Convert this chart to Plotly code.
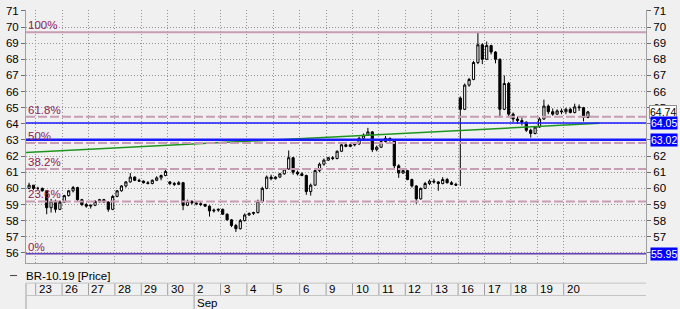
import plotly.graph_objects as go

# ---------------- data ----------------
day_labels = ["23", "26", "27", "28", "29", "30", "2", "3", "4", "5", "6",
              "9", "10", "11", "12", "13", "16", "17", "18", "19", "20"]
month_label = "Sep"
month_start_index = 6          # Sep 2
bars_per_day = 6
first_partial_slots = [4, 5]   # visible bars of Aug 22

opens = [
    60.0, 60.2,                                   # 22
    60.0, 60.0, 59.85, 58.8, 59.2, 58.7,          # 23
    59.15, 59.55, 59.85, 60.05, 59.3, 59.0,       # 26
    58.9, 58.95, 59.2, 59.3, 59.15, 58.7,         # 27
    59.5, 59.85, 60.15, 60.4, 60.7, 60.5,         # 28
    60.45, 60.35, 60.3, 60.5, 60.65, 60.8,        # 29
    60.4, 60.3, 60.25, 60.35, 58.95, 59.2,        # 30
    59.1, 59.05, 59.0, 58.9, 58.6, 58.65,         # Sep 2
    58.7, 58.4, 58.05, 57.7, 57.5, 58.0,          # 3
    58.35, 58.45, 58.5, 59.2, 60.0, 60.7,         # 4
    60.6, 60.7, 60.9, 61.2, 61.9, 61.0,           # 5
    60.9, 60.8, 59.8, 60.2, 61.1, 61.5,           # 6
    61.75, 61.9, 61.85, 62.3, 62.7, 62.6,         # 9
    62.7, 62.75, 63.1, 63.3, 63.5, 62.4,          # 10
    62.55, 62.9, 63.1, 63.0, 61.4, 60.95,         # 11
    61.1, 60.55, 60.15, 59.35, 60.0, 60.3,        # 12
    60.45, 60.4, 60.3, 60.55, 60.35, 60.25,       # 13
    65.6, 64.9, 66.4, 66.75, 67.8, 68.9,          # 16
    68.0, 68.85, 68.45, 68.0, 64.9, 66.5,         # 17
    64.6, 64.3, 64.2, 64.1, 63.6, 63.4,           # 18
    63.8, 64.3, 65.1, 64.75, 64.6, 64.8,          # 19
    64.75, 64.9, 64.7, 65.05, 65.0, 64.4,         # 20
]
highs = [
    60.35, 60.2,
    60.1, 60.05, 59.9, 59.35, 59.3, 59.25,
    59.6, 59.9, 60.15, 60.1, 59.35, 59.1,
    59.0, 59.25, 59.35, 59.35, 59.2, 59.6,
    59.9, 60.2, 60.45, 60.95, 60.75, 60.6,
    60.5, 60.45, 60.55, 60.75, 60.85, 61.15,
    60.45, 60.4, 60.45, 60.4, 59.3, 59.25,
    59.2, 59.15, 59.05, 58.95, 58.75, 58.75,
    58.75, 58.45, 58.1, 57.8, 58.1, 58.45,
    58.5, 58.55, 59.3, 60.1, 60.8, 60.85,
    60.75, 60.95, 61.25, 62.35, 61.95, 61.1,
    61.0, 60.85, 60.3, 61.2, 61.6, 61.85,
    61.95, 62.0, 62.35, 62.8, 62.85, 62.8,
    62.8, 63.2, 63.4, 63.75, 63.55, 62.65,
    63.0, 63.25, 63.15, 63.05, 61.5, 61.15,
    61.15, 60.6, 60.2, 60.05, 60.4, 60.55,
    60.6, 60.45, 60.7, 60.65, 60.45, 60.35,
    65.7, 66.5, 66.85, 67.9, 69.65, 69.0,
    69.1, 68.9, 68.5, 68.05, 67.0, 66.6,
    64.7, 64.45, 64.4, 64.15, 63.7, 63.85,
    64.4, 65.5, 65.2, 64.95, 64.9, 64.95,
    65.0, 65.0, 65.25, 65.2, 65.05, 64.8,
]
lows = [
    59.95, 59.9,
    59.9, 59.8, 58.4, 58.5, 58.5, 58.65,
    59.1, 59.5, 59.75, 59.2, 58.9, 58.8,
    58.75, 58.9, 59.1, 59.1, 58.55, 58.65,
    59.45, 59.8, 60.05, 60.35, 60.45, 60.4,
    60.3, 60.25, 60.25, 60.45, 60.5, 60.75,
    60.2, 60.15, 60.2, 58.65, 58.9, 59.0,
    58.95, 58.9, 58.85, 58.25, 58.5, 58.55,
    58.35, 58.0, 57.6, 57.3, 57.45, 57.95,
    58.3, 58.35, 58.45, 59.1, 59.95, 60.5,
    60.55, 60.65, 60.85, 61.15, 60.85, 60.8,
    60.75, 59.6, 59.55, 60.15, 61.0, 61.4,
    61.7, 61.75, 61.8, 62.25, 62.55, 62.55,
    62.6, 62.7, 63.0, 63.25, 62.25, 62.3,
    62.5, 62.85, 62.9, 61.2, 60.65, 60.9,
    60.5, 60.05, 59.05, 59.3, 59.95, 60.2,
    60.3, 59.85, 60.25, 60.3, 60.2, 60.15,
    60.15, 64.85, 66.3, 66.7, 67.7, 67.7,
    67.95, 68.3, 67.75, 64.4, 64.85, 64.4,
    64.1, 64.0, 63.9, 63.5, 63.15, 63.35,
    63.75, 64.25, 64.6, 64.5, 64.55, 64.6,
    64.6, 64.65, 64.65, 64.8, 64.15, 64.35,
]
closes = [
    60.2, 60.0,
    60.0, 59.85, 58.8, 59.2, 58.7, 59.15,
    59.55, 59.85, 60.05, 59.3, 59.0, 58.9,
    58.95, 59.2, 59.3, 59.15, 58.7, 59.5,
    59.85, 60.15, 60.4, 60.7, 60.5, 60.45,
    60.35, 60.3, 60.5, 60.65, 60.8, 61.05,
    60.3, 60.25, 60.35, 58.95, 59.2, 59.1,
    59.05, 59.0, 58.9, 58.6, 58.65, 58.7,
    58.4, 58.05, 57.7, 57.5, 58.0, 58.35,
    58.45, 58.5, 59.2, 60.0, 60.7, 60.6,
    60.7, 60.9, 61.2, 61.9, 61.0, 60.9,
    60.8, 59.8, 60.2, 61.1, 61.5, 61.75,
    61.9, 61.85, 62.3, 62.7, 62.6, 62.7,
    62.75, 63.1, 63.3, 63.5, 62.4, 62.55,
    62.9, 63.1, 63.0, 61.4, 60.95, 61.1,
    60.55, 60.15, 59.35, 60.0, 60.3, 60.45,
    60.4, 60.3, 60.55, 60.35, 60.25, 60.2,
    64.9, 66.4, 66.75, 67.8, 68.9, 68.0,
    68.85, 68.45, 68.0, 64.9, 66.5, 64.6,
    64.3, 64.2, 64.1, 63.6, 63.4, 63.8,
    64.3, 65.1, 64.75, 64.6, 64.8, 64.75,
    64.9, 64.7, 65.05, 65.0, 64.4, 64.74,
]

fib_low = 55.95
fib_high = 69.68
fib_ratios = [1.0, 0.618, 0.5, 0.382, 0.236, 0.0]
fib_texts = ["100%", "61.8%", "50%", "38.2%", "23.6%", "0%"]

blue_levels = [64.05, 63.02, 55.95]
last_price = 64.74

trend_x = [-0.37, 21.34]
trend_y = [62.22, 64.03]

y_ticks = list(range(56, 72))
right_hidden = [56, 63, 64]    # right-axis labels covered by the value boxes

# ---------------- positions of bars (trading-day axis) ----------------
pos = [-1 + (k + 0.5) / bars_per_day for k in first_partial_slots]
for d in range(len(day_labels)):
    pos += [d + (k + 0.5) / bars_per_day for k in range(bars_per_day)]

# ---------------- layout geometry ----------------
W, H = 680, 309
x_dom = [26 / W, 646 / W]
y_dom = [1 - 262 / H, 1 - 5 / H]
x_range = [-0.367, 23.117]
y_range = [55.39, 71.06]

BG = "#f0f0f0"
FONT = "Liberation Sans, Arial, sans-serif"
FIB_LINE = "#c89cb4"
FIB_TEXT = "#8e2157"
GRID = "#959595"
AXIS = "#a0a0a0"

fig = go.Figure()

fig.add_trace(go.Candlestick(
    x=pos, open=opens, high=highs, low=lows, close=closes,
    increasing=dict(line=dict(color="#000000", width=1), fillcolor="#ffffff"),
    decreasing=dict(line=dict(color="#000000", width=1), fillcolor="#000000"),
    whiskerwidth=0, hoverinfo="skip", showlegend=False,
))

fig.add_trace(go.Scatter(
    x=trend_x, y=trend_y, mode="lines",
    line=dict(color="#1e961e", width=1.5), hoverinfo="skip", showlegend=False,
))

# invisible trace for the right axis
fig.add_trace(go.Scatter(x=[pos[0]], y=[60], yaxis="y2", mode="markers",
                         marker=dict(opacity=0), hoverinfo="skip", showlegend=False))

# fibonacci levels
for r, t in zip(fib_ratios, fib_texts):
    lvl = fib_low + r * (fib_high - fib_low)
    dash = "solid" if r in (1.0, 0.0) else "9px,3px"
    fig.add_shape(type="line", xref="x domain", x0=0, x1=1, yref="y", y0=lvl, y1=lvl,
                  line=dict(color=FIB_LINE, width=2, dash=dash))
    fig.add_annotation(xref="x domain", x=0, xanchor="left", yref="y", y=lvl,
                       yanchor="bottom", text=t, showarrow=False, xshift=0, yshift=-1,
                       font=dict(family=FONT, size=11.5, color=FIB_TEXT))

# blue horizontal lines
blue_widths = [1.5, 2.5, 1.2]
for lvl, w in zip(blue_levels, blue_widths):
    fig.add_shape(type="line", xref="x domain", x0=0, x1=1, yref="y", y0=lvl, y1=lvl,
                  line=dict(color="#1a1aff" if lvl != 55.95 else "#3a2ad0", width=w))

# right-side value boxes
fig.add_annotation(xref="paper", x=649 / W, xanchor="left", yref="y", y=last_price,
                   yanchor="middle", text=f"{last_price:.2f}", showarrow=False,
                   bgcolor="#ffffff", bordercolor="#909090", borderwidth=1, borderpad=0,
                   font=dict(family=FONT, size=10.5, color="#000000"))
for lvl in blue_levels:
    fig.add_annotation(xref="paper", x=650 / W, xanchor="left", yref="y", y=lvl,
                       yanchor="middle", text=f"{lvl:.2f}", showarrow=False,
                       bgcolor="#0000ff", borderpad=0,
                       font=dict(family=FONT, size=10.5, color="#ffffff"))

# legend text below the chart
fig.add_shape(type="line", xref="paper", yref="paper", x0=10 / W, x1=17 / W,
              y0=1 - 275 / H, y1=1 - 275 / H, line=dict(color="#404040", width=1))
fig.add_annotation(xref="paper", x=24 / W, xanchor="left", yref="paper", y=1 - 275 / H,
                   yanchor="middle", text="BR-10.19 [Price]", showarrow=False,
                   font=dict(family=FONT, size=11.5, color="#000000"))

# date cells
row1_top = 1 - 282.7 / H
row1_bot = 1 - 295.3 / H
for i, lab in enumerate(day_labels):
    fig.add_annotation(xref="x", x=i, xanchor="left", xshift=1, yref="paper",
                       y=(row1_top + row1_bot) / 2, yanchor="middle", text=lab,
                       showarrow=False, font=dict(family=FONT, size=11.5, color="#000000"))
    fig.add_shape(type="line", xref="x", x0=i, x1=i, yref="paper", y0=row1_bot, y1=row1_top,
                  line=dict(color=AXIS, width=1))
fig.add_annotation(xref="x", x=month_start_index, xanchor="left", xshift=1, yref="paper",
                   y=1 - 302.5 / H, yanchor="middle", text=month_label, showarrow=False,
                   font=dict(family=FONT, size=11.5, color="#000000"))
fig.add_shape(type="line", xref="x", x0=month_start_index, x1=month_start_index,
              yref="paper", y0=0, y1=row1_bot, line=dict(color=AXIS, width=1))
fig.add_shape(type="line", xref="x domain", x0=0, x1=0, yref="paper", y0=0, y1=row1_top,
              line=dict(color=AXIS, width=1))
for yy in (row1_top, row1_bot):
    fig.add_shape(type="line", xref="x domain", x0=0, x1=1, yref="paper", y0=yy, y1=yy,
                  line=dict(color="#c4c4c4", width=1))

fig.update_layout(
    width=W, height=H,
    margin=dict(l=0, r=0, t=0, b=0),
    paper_bgcolor=BG, plot_bgcolor=BG,
    showlegend=False,
    font=dict(family=FONT, size=11, color="#000000"),
    xaxis=dict(
        domain=x_dom, range=x_range, tickmode="array",
        tickvals=list(range(len(day_labels))), showticklabels=False, ticks="",
        showgrid=True, gridcolor=GRID, griddash="1px,2px", gridwidth=1,
        showline=True, linecolor=AXIS, zeroline=False,
        rangeslider=dict(visible=False), fixedrange=True,
    ),
    yaxis=dict(
        domain=y_dom, range=y_range, tickmode="array", tickvals=y_ticks,
        ticks="outside", ticklen=4, tickcolor="#707070",
        showgrid=True, gridcolor=GRID, griddash="1px,2px", gridwidth=1,
        showline=True, linecolor=AXIS, zeroline=False,
        tickfont=dict(family=FONT, size=11.5, color="#000000"),
    ),
    yaxis2=dict(
        overlaying="y", side="right", anchor="x", range=y_range,
        tickmode="array", tickvals=y_ticks,
        ticktext=["" if v in right_hidden else str(v) for v in y_ticks],
        ticks="outside", ticklen=4, tickcolor="#707070",
        showgrid=False, showline=True, linecolor=AXIS, zeroline=False,
        tickfont=dict(family=FONT, size=11.5, color="#000000"),
    ),
)

fig.write_html("out.html")
